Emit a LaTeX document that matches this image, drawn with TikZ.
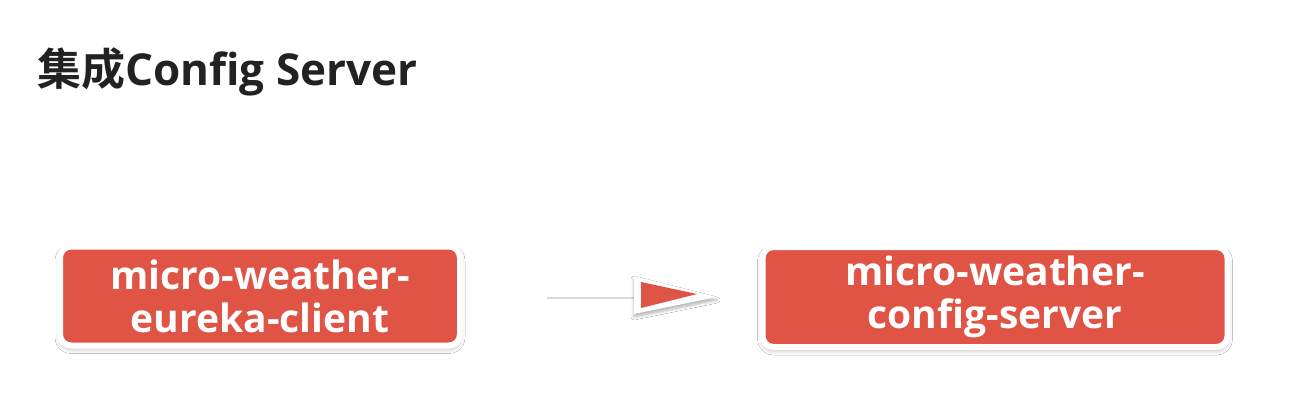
\documentclass[tikz,border=0pt]{standalone}
\usepackage{fontspec}
\setmainfont{Open Sans}
\newfontfamily\cjkbold{Noto Sans CJK SC Bold}
\newfontfamily\latbold{Open Sans Bold}
\usetikzlibrary{shadows.blur}
\definecolor{boxred}{RGB}{223,84,68}
\definecolor{titlegray}{RGB}{34,34,34}
\tikzset{
  redbox/.style={draw=white, line width=6pt, fill=boxred, rounded corners=11pt,
    inner sep=0pt, align=center, text=white,
    font=\latbold\fontsize{39}{43}\selectfont,
    blur shadow={shadow blur steps=8, shadow xshift=0pt, shadow yshift=-3pt, shadow opacity=30, shadow blur radius=5pt}},
  shaftshadow/.style={draw=black!15, line width=3pt},
  shaft/.style={draw=white, line width=3pt},
}
\begin{document}
\begin{tikzpicture}[x=1pt,y=-1pt]
\useasboundingbox[fill=white] (0,0) rectangle (1290,418);
\node[anchor=base west, text=titlegray, inner sep=0pt] (title) at (37,85)
  {\fontsize{44}{50}\selectfont\cjkbold 集成\latbold Config Server};
\node[redbox, minimum width=400pt, minimum height=99pt, text depth=0pt] (client) at (260,296)
  {micro-weather-\\eureka-client};
\node[redbox, minimum width=465pt, minimum height=100pt] (server) at (995,297)
  {micro-weather-\\config-server};
% arrow
\coordinate (s) at (547,295);
\coordinate (m) at (636,295);
\coordinate (tw) at (717,297);
\coordinate (tr) at (697,294);
\draw[shaftshadow] ([yshift=-2.5pt]s) -- ([yshift=-2.5pt]m);
\draw[shaft] (s) -- (m);
\path[fill=white, blur shadow={shadow blur steps=6, shadow xshift=0pt, shadow yshift=-3pt, shadow opacity=30, shadow blur radius=3pt}]
  (634,276) -- (tw) -- (634,314) -- cycle;
\path[fill=boxred] (641,282) -- (tr) -- (641,308) -- cycle;
\end{tikzpicture}
\end{document}
